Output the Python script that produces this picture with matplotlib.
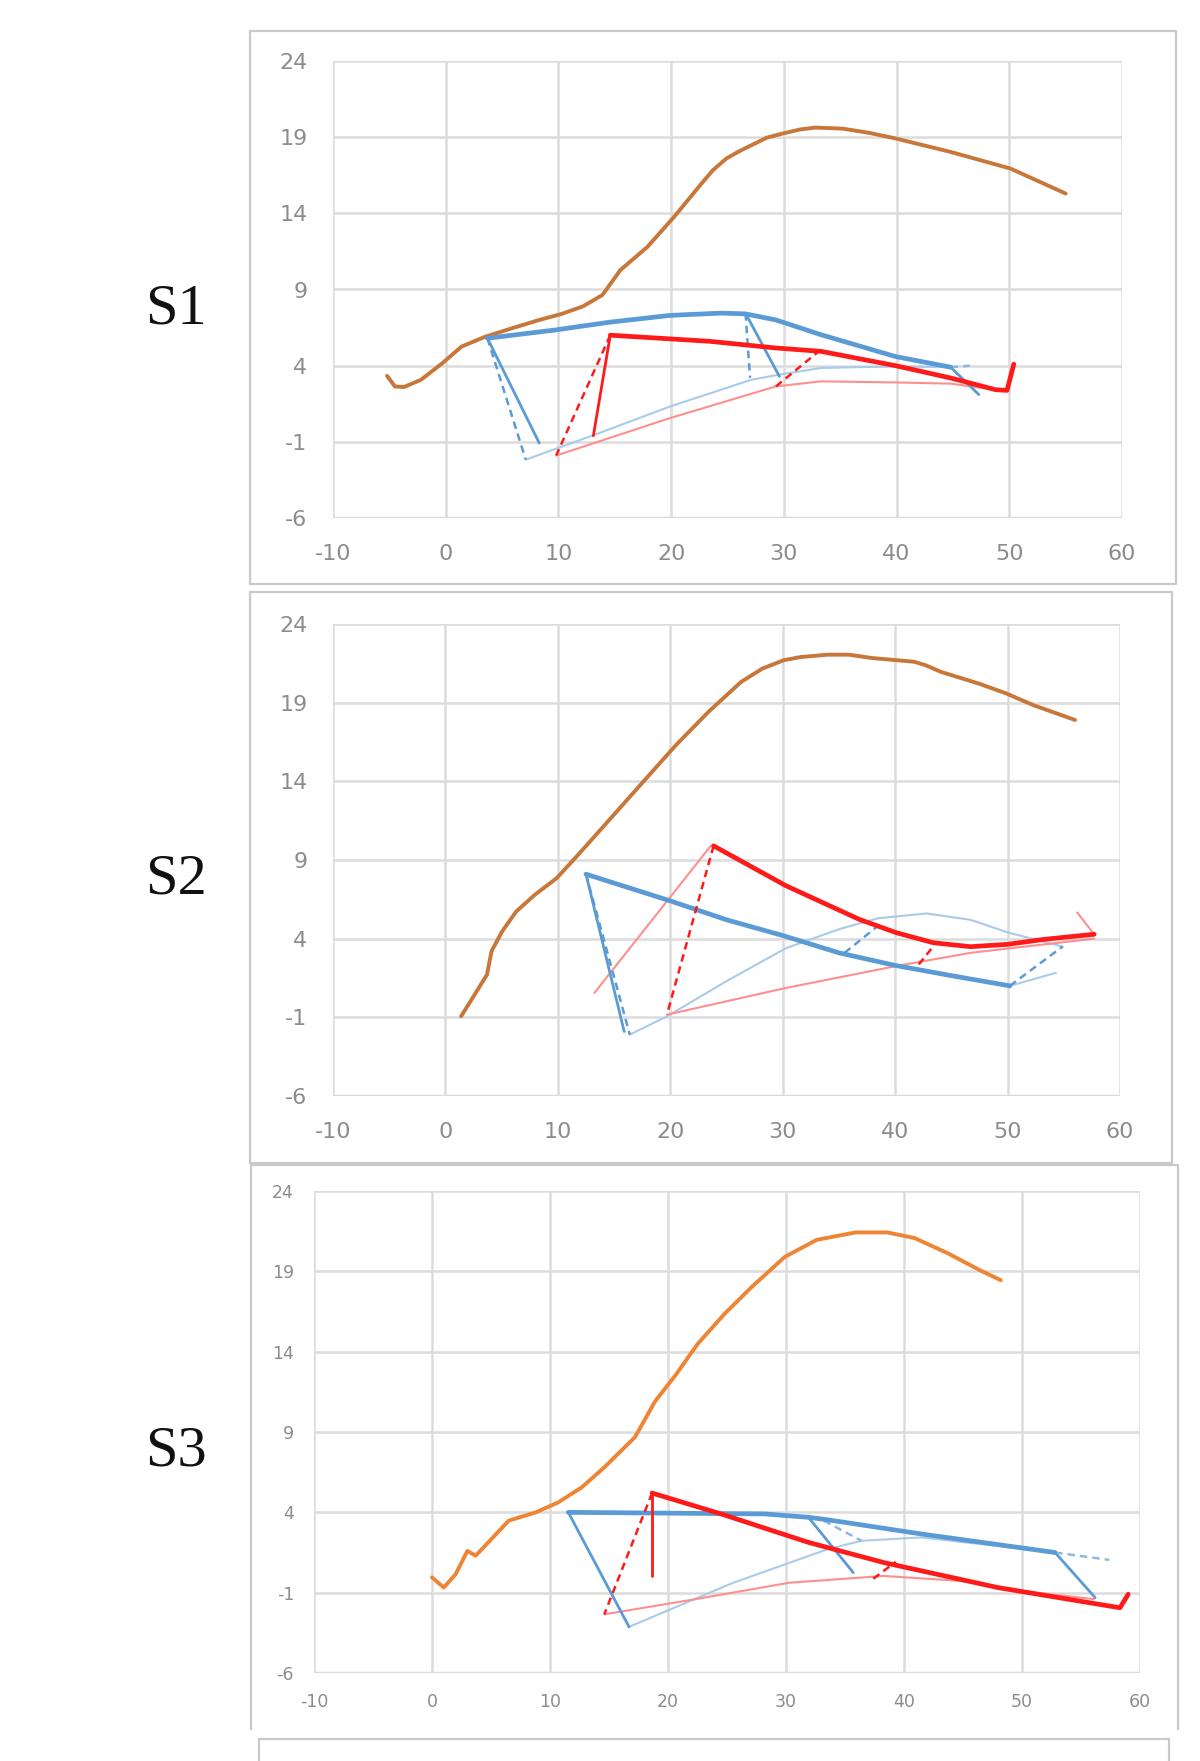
import numpy as np
import matplotlib
matplotlib.use("Agg")
import matplotlib.pyplot as plt
from matplotlib.lines import Line2D

plt.rcParams["axes.unicode_minus"] = False

# ---------------- data (x, y) ----------------
# S1
s1_ground = [(-5.2, 3.33), (-4.5, 2.63), (-3.7, 2.6), (-2.2, 3.07), (-0.3, 4.16), (1.4, 5.25),
             (3.5, 5.9), (5.9, 6.46), (8.3, 7.0), (10.3, 7.4), (12.2, 7.9), (13.9, 8.64),
             (15.5, 10.28), (17.9, 11.8), (20.3, 13.8), (22.7, 15.96), (23.7, 16.83),
             (24.9, 17.6), (26.1, 18.1), (28.5, 18.97), (29.9, 19.24), (31.4, 19.5),
             (32.8, 19.63), (35.2, 19.56), (37.6, 19.28), (40.0, 18.9), (44.8, 18.03),
             (50.1, 16.94), (55.0, 15.3)]
s1_slip_a = [(3.7, 5.8), (9.8, 6.35), (14.5, 6.85), (19.9, 7.3), (24.4, 7.45), (26.6, 7.4),
             (29.3, 7.0), (33.3, 6.03), (39.9, 4.6), (44.8, 3.9)]
s1_tail_a = [(44.8, 3.9), (46.5, 4.0)]
s1_drop_a = [(3.7, 5.8), (8.3, -1.08)]
s1_dash_a = [(3.7, 5.8), (7.1, -2.17)]
s1_base_a = [(7.1, -2.17), (13.6, -0.43), (19.9, 1.32), (27.1, 3.07), (29.5, 3.4),
             (33.3, 3.85), (39.9, 3.95), (44.8, 3.9)]
s1_mid_dash_a = [(26.6, 7.44), (27.0, 3.2)]
s1_mid_drop_a = [(26.6, 7.44), (29.6, 3.3)]
s1_end_drop_a = [(44.8, 3.9), (47.3, 2.1)]
s1_slip_b = [(14.6, 6.0), (23.4, 5.6), (29.3, 5.16), (33.3, 4.94), (39.9, 4.0), (44.8, 3.19),
             (48.8, 2.42), (49.8, 2.38), (50.4, 4.1)]
s1_drop_b = [(14.6, 6.0), (13.1, -0.6)]
s1_dash_b = [(14.6, 6.0), (9.8, -1.9)]
s1_base_b = [(9.8, -1.9), (19.9, 0.56), (29.3, 2.64), (33.3, 2.97), (39.9, 2.9), (44.8, 2.82),
             (48.8, 2.42)]
s1_mid_dash_b = [(29.3, 2.64), (33.0, 4.88)]

# S2
s2_ground = [(1.4, -0.93), (2.6, 0.45), (3.7, 1.72), (4.1, 3.2), (5.05, 4.47), (6.3, 5.73),
             (7.95, 6.79), (9.9, 7.85), (11.8, 9.33), (14.7, 11.65), (17.6, 13.98),
             (20.5, 16.3), (23.4, 18.42), (26.3, 20.32), (28.2, 21.17), (30.1, 21.7),
             (31.6, 21.9), (34.0, 22.05), (35.9, 22.05), (37.9, 21.84), (41.7, 21.6),
             (42.7, 21.38), (44.1, 20.95), (47.5, 20.2), (49.9, 19.58), (52.3, 18.84),
             (56.0, 17.9)]
s2_slip_a = [(12.5, 8.1), (20.0, 6.4), (25.0, 5.2), (30.0, 4.2), (35.0, 3.1), (40.0, 2.3),
             (45.0, 1.65), (50.2, 1.0)]
s2_tail_a = [(50.2, 1.0), (54.9, 3.5)]
s2_tail2_a = [(50.2, 1.0), (54.3, 1.83)]
s2_drop_a = [(12.5, 8.1), (15.9, -1.9)]
s2_dash_a = [(12.5, 8.1), (16.4, -2.1)]
s2_base_a = [(16.4, -2.1), (19.7, -0.94), (25.0, 1.3), (30.3, 3.4), (35.0, 4.6), (38.5, 5.3),
             (42.8, 5.6), (46.7, 5.2), (50.0, 4.4), (54.9, 3.5)]
s2_mid_dash_a = [(35.5, 3.1), (38.8, 5.0)]
s2_slip_b = [(23.85, 9.9), (30.3, 7.36), (36.8, 5.23), (40.1, 4.38), (43.4, 3.74), (46.7, 3.49),
             (50.0, 3.64), (53.3, 3.96), (57.7, 4.28)]
s2_hook_b = [(57.7, 4.28), (56.2, 5.66)]
s2_dash_b = [(23.85, 9.9), (19.7, -0.83)]
s2_thin_b = [(23.6, 9.9), (13.25, 0.55)]
s2_base_b = [(19.7, -0.83), (30.3, 0.87), (40.1, 2.26), (46.7, 3.1), (57.7, 4.0)]
s2_mid_dash_b = [(42.1, 2.36), (43.3, 3.43)]

# S3
s3_ground = [(0.0, -0.05), (1.0, -0.68), (2.0, 0.15), (3.0, 1.6), (3.7, 1.3), (4.9, 2.23),
             (6.5, 3.48), (8.8, 4.0), (10.7, 4.62), (12.7, 5.56), (14.6, 6.8), (17.2, 8.68),
             (18.9, 10.9), (20.7, 12.6), (22.5, 14.47), (24.8, 16.36), (27.1, 18.03),
             (29.9, 19.9), (32.6, 20.96), (35.9, 21.42), (38.6, 21.42), (40.9, 21.07),
             (43.7, 20.13), (46.4, 19.08), (48.2, 18.45)]
s3_slip_a = [(11.55, 4.0), (28.2, 3.9), (31.9, 3.69), (33.5, 3.54), (41.5, 2.65), (52.8, 1.5)]
s3_tail_a = [(52.8, 1.5), (57.4, 1.04)]
s3_drop_a = [(11.55, 4.0), (16.7, -3.13)]
s3_base_a = [(16.7, -3.13), (25.4, -0.42), (33.5, 1.7), (36.4, 2.23), (41.5, 2.44),
             (52.8, 1.5)]
s3_mid_drop_a = [(31.9, 3.69), (35.7, 0.25)]
s3_mid_dash_a = [(33.2, 3.48), (36.4, 2.23)]
s3_end_drop_a = [(52.8, 1.5), (56.2, -1.31)]
s3_slip_b = [(18.65, 5.2), (24.5, 3.9), (31.9, 2.13), (38.3, 0.87), (48.0, -0.69),
             (58.3, -1.94), (59.0, -1.1)]
s3_drop_b = [(18.65, 5.2), (18.65, 0.04)]
s3_dash_b = [(18.65, 5.2), (14.6, -2.35)]
s3_base_b = [(14.6, -2.35), (22.2, -1.42), (30.3, -0.38), (38.3, 0.04), (44.8, -0.27),
             (51.2, -1.0), (56.1, -1.4)]
s3_mid_dash_b = [(37.4, -0.13), (39.3, 0.92)]

x_ticks = [-10, 0, 10, 20, 30, 40, 50, 60]
y_ticks = [-6, -1, 4, 9, 14, 19, 24]
panel_labels = ["S1", "S2", "S3"]

# ---------------- styles ----------------
BLUE = "#5b9bd5"
RED = "#ff1a1a"
styles = {
    "ground": dict(lw=2.8),
    "slip_a": dict(color=BLUE, lw=3.4),
    "slip_b": dict(color=RED, lw=3.4),
    "drop_a": dict(color=BLUE, lw=2.0),
    "drop_b": dict(color=RED, lw=2.0),
    "dash_a": dict(color=BLUE, lw=1.8, ls=(0, (3, 2))),
    "dash_b": dict(color=RED, lw=1.8, ls=(0, (3, 2))),
    "base_a": dict(color="#a9cbea", lw=1.5),
    "base_b": dict(color="#ff8f8f", lw=1.5),
    "tail_a": dict(color="#8fb8e0", lw=1.8, ls=(0, (3, 2))),
}

panels = [
    dict(ground_color="#c8773a", tick_fs=16,
         plot=(333, 61, 1122, 518), box=(250, 31, 1176, 584, True),
         lines=[(s1_base_a, "base_a"), (s1_base_b, "base_b"), (s1_ground, "ground"),
                (s1_drop_a, "drop_a"), (s1_dash_a, "dash_a"), (s1_mid_dash_a, "dash_a"),
                (s1_mid_drop_a, "drop_a"), (s1_end_drop_a, "drop_a"), (s1_tail_a, "tail_a"),
                (s1_slip_a, "slip_a"), (s1_drop_b, "drop_b"), (s1_dash_b, "dash_b"),
                (s1_mid_dash_b, "dash_b"), (s1_slip_b, "slip_b")]),
    dict(ground_color="#c8773a", tick_fs=16,
         plot=(333, 624, 1120, 1096), box=(250, 592, 1172, 1163, True),
         lines=[(s2_base_a, "base_a"), (s2_base_b, "base_b"), (s2_thin_b, "base_b"),
                (s2_tail2_a, "base_a"), (s2_hook_b, "base_b"), (s2_ground, "ground"),
                (s2_drop_a, "drop_a"), (s2_dash_a, "dash_a"), (s2_mid_dash_a, "dash_a"),
                (s2_tail_a, "dash_a"), (s2_slip_a, "slip_a"), (s2_dash_b, "dash_b"),
                (s2_mid_dash_b, "dash_b"), (s2_slip_b, "slip_b")]),
    dict(ground_color="#ee8535", tick_fs=12.5,
         plot=(314, 1191, 1140, 1673), box=(251, 1165, 1178, 1729, False),
         lines=[(s3_base_a, "base_a"), (s3_base_b, "base_b"), (s3_ground, "ground"),
                (s3_drop_a, "drop_a"), (s3_mid_drop_a, "drop_a"), (s3_mid_dash_a, "tail_a"),
                (s3_end_drop_a, "drop_a"), (s3_tail_a, "tail_a"), (s3_slip_a, "slip_a"),
                (s3_drop_b, "drop_b"), (s3_dash_b, "dash_b"), (s3_mid_dash_b, "dash_b"),
                (s3_slip_b, "slip_b")]),
]

W, H = 1200, 1761
fig = plt.figure(figsize=(W / 100, H / 100), dpi=100)
fig.patch.set_facecolor("white")


def fx(px):
    return px / W


def fy(py):
    return 1 - py / H


for p, label in zip(panels, panel_labels):
    # outer chart box
    x0, y0, x1, y1, closed = p["box"]
    xs = [x0, x0, x1, x1] + ([x0] if closed else [])
    ys = [y1, y0, y0, y1] + ([y1] if closed else [])
    fig.add_artist(Line2D([fx(v) for v in xs], [fy(v) for v in ys],
                          color="#c9c9c9", lw=1.6, transform=fig.transFigure))

    l, t, r, b = p["plot"]
    ax = fig.add_axes([fx(l), fy(b), fx(r - l), (b - t) / H])
    ax.set_xlim(-10, 60)
    ax.set_ylim(-6, 24)
    ax.set_xticks(x_ticks)
    ax.set_yticks(y_ticks)
    ax.grid(True, color="#dcdcdc", lw=1.8)
    ax.set_axisbelow(True)
    for s in ax.spines.values():
        s.set_visible(False)
    ax.axhline(-6, color="#d0d0d0", lw=2.4, zorder=0.5)
    ax.tick_params(length=0, labelsize=p["tick_fs"], labelcolor="#8c8c8c",
                   pad=p["tick_fs"] * 1.15)
    ax.set_facecolor("white")

    for pts, key in p["lines"]:
        arr = np.array(pts)
        st = dict(styles[key])
        if key == "ground":
            st["color"] = p["ground_color"]
        ax.plot(arr[:, 0], arr[:, 1], solid_capstyle="round",
                solid_joinstyle="round", **st)

    fig.text(fx(176), fy((t + b) / 2 + 20), label, ha="center", va="center",
             fontsize=42, family=["Liberation Serif", "DejaVu Serif"], color="#111111")

# top of the next (cut off) chart box
fig.add_artist(Line2D([fx(259), fx(259), fx(1169), fx(1169)],
                      [fy(1765), fy(1739), fy(1739), fy(1765)],
                      color="#c9c9c9", lw=1.6, transform=fig.transFigure))

fig.savefig("out.png", dpi=100, facecolor="white")
